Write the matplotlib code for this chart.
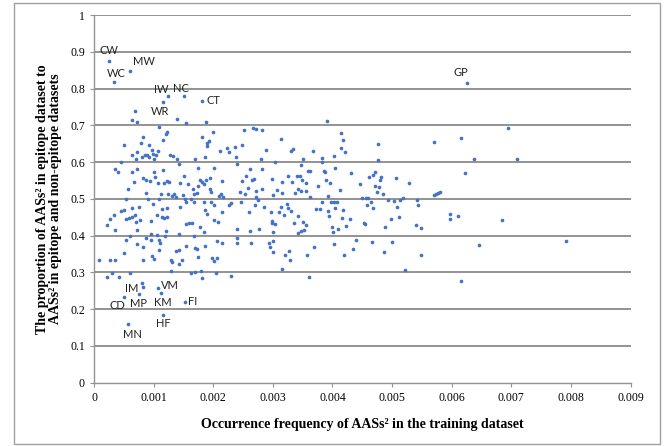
import numpy as np
import matplotlib
matplotlib.use("Agg")
import matplotlib.pyplot as plt
from matplotlib.patches import Rectangle

# occurrence frequency (x 1e-3) and proportion for the unlabelled AASs
freq_k = [
    0.08, 0.21, 0.21, 0.27, 0.27, 0.31, 0.33, 0.36, 0.36, 0.36, 0.40, 0.42, 0.45, 0.45,
    0.51, 0.51, 0.51, 0.54, 0.54, 0.54, 0.57, 0.58, 0.60, 0.60, 0.63, 0.63, 0.64, 0.64,
    0.64, 0.67, 0.68, 0.69, 0.70, 0.70, 0.72, 0.72, 0.72, 0.72, 0.72, 0.76, 0.77, 0.79,
    0.82, 0.81, 0.82, 0.82, 0.82, 0.86, 0.87, 0.87, 0.88, 0.89, 0.91, 0.92, 0.93, 0.94,
    0.95, 0.96, 0.96, 0.97, 0.97, 0.99, 0.99, 1.00, 1.01, 1.01, 1.03, 1.04, 1.06, 1.06,
    1.07, 1.07, 1.09, 1.09, 1.09, 1.09, 1.11, 1.12, 1.14, 1.14, 1.15, 1.15, 1.17, 1.18,
    1.19, 1.20, 1.21, 1.22, 1.22, 1.22, 1.23, 1.24, 1.26, 1.27, 1.29, 1.30, 1.31, 1.31,
    1.33, 1.34, 1.37, 1.38, 1.39, 1.40, 1.42, 1.42, 1.42, 1.43, 1.44, 1.45, 1.47, 1.49,
    1.51, 1.52, 1.54, 1.54, 1.57, 1.54, 1.55, 1.59, 1.62, 1.63, 1.65, 1.66, 1.67, 1.67,
    1.68, 1.69, 1.70, 1.70, 1.72, 1.73, 1.75, 1.75, 1.75, 1.77, 1.78, 1.79, 1.81, 1.82,
    1.82, 1.84, 1.85, 1.85, 1.87, 1.87, 1.87, 1.88, 1.88, 1.89, 1.90, 1.90, 1.93, 1.94,
    1.95, 1.97, 1.97, 1.98, 1.99, 2.01, 2.01, 2.02, 2.02, 2.05, 2.06, 2.07, 2.08, 2.10,
    2.12, 2.13, 2.14, 2.14, 2.15, 2.16, 2.23, 2.27, 2.27, 2.30, 2.30, 2.37, 2.39, 2.40,
    2.40, 2.40, 2.40, 2.45, 2.46, 2.48, 2.48, 2.51, 2.53, 2.55, 2.58, 2.60, 2.61, 2.62,
    2.64, 2.65, 2.66, 2.69, 2.70, 2.71, 2.72, 2.72, 2.75, 2.76, 2.80, 2.81, 2.81, 2.82,
    2.85, 2.88, 2.93, 2.95, 2.97, 2.98, 2.99, 2.99, 3.00, 3.00, 3.01, 3.01, 3.03, 3.04,
    3.07, 3.11, 3.13, 3.14, 3.15, 3.16, 3.16, 3.18, 3.20, 3.24, 3.25, 3.25, 3.27, 3.28,
    3.30, 3.31, 3.32, 3.33, 3.36, 3.38, 3.40, 3.42, 3.42, 3.43, 3.45, 3.47, 3.48, 3.48,
    3.49, 3.50, 3.51, 3.53, 3.55, 3.56, 3.56, 3.58, 3.59, 3.61, 3.62, 3.63, 3.67, 3.69,
    3.73, 3.76, 3.79, 3.82, 3.82, 3.83, 3.85, 3.88, 3.89, 3.91, 3.92, 3.93, 3.94, 3.96,
    3.98, 3.99, 4.01, 4.02, 4.03, 4.03, 4.05, 4.05, 4.07, 4.10, 4.13, 4.14, 4.15, 4.16,
    4.18, 4.18, 4.20, 4.21, 4.22, 4.30, 4.31, 4.34, 4.39, 4.46, 4.49, 4.53, 4.55, 4.56,
    4.58, 4.60, 4.62, 4.65, 4.67, 4.68, 4.68, 4.71, 4.72, 4.74, 4.76, 4.77, 4.78, 4.80,
    4.82, 4.84, 4.86, 4.89, 4.94, 4.98, 5.00, 5.04, 5.07, 5.09, 5.12, 5.14, 5.18, 5.21,
    5.29, 5.40, 5.42, 5.44, 5.49, 5.49, 5.70, 5.70, 5.73, 5.77, 5.80, 5.98, 5.98, 6.10,
    6.16, 6.16, 6.22, 6.37, 6.46, 6.85, 6.94, 7.10, 7.91, 0.82,
]
proportion = [
    0.334, 0.286, 0.429, 0.445, 0.334, 0.299, 0.456, 0.416, 0.334, 0.582, 0.573, 0.286, 0.601, 0.466,
    0.646, 0.352, 0.470, 0.500, 0.388, 0.444, 0.526, 0.449, 0.400, 0.299, 0.620, 0.714, 0.572, 0.475,
    0.451, 0.546, 0.456, 0.739, 0.607, 0.436, 0.709, 0.626, 0.582, 0.416, 0.376, 0.479, 0.441, 0.652,
    0.667, 0.615, 0.556, 0.369, 0.334, 0.620, 0.552, 0.516, 0.393, 0.620, 0.499, 0.646, 0.615, 0.548,
    0.388, 0.439, 0.404, 0.634, 0.344, 0.622, 0.487, 0.336, 0.574, 0.607, 0.559, 0.618, 0.457, 0.401,
    0.544, 0.629, 0.695, 0.500, 0.388, 0.361, 0.380, 0.513, 0.450, 0.472, 0.659, 0.579, 0.449, 0.543,
    0.399, 0.413, 0.676, 0.450, 0.474, 0.549, 0.682, 0.514, 0.547, 0.620, 0.334, 0.304, 0.508, 0.328,
    0.616, 0.513, 0.358, 0.505, 0.718, 0.609, 0.596, 0.404, 0.323, 0.362, 0.543, 0.479, 0.334, 0.511,
    0.561, 0.500, 0.707, 0.491, 0.539, 0.432, 0.371, 0.433, 0.499, 0.297, 0.435, 0.528, 0.491, 0.399,
    0.513, 0.608, 0.302, 0.366, 0.517, 0.363, 0.585, 0.343, 0.535, 0.550, 0.423, 0.304, 0.668, 0.285,
    0.546, 0.410, 0.491, 0.541, 0.470, 0.371, 0.613, 0.709, 0.550, 0.644, 0.459, 0.651, 0.656, 0.557,
    0.528, 0.491, 0.518, 0.339, 0.682, 0.441, 0.332, 0.583, 0.482, 0.299, 0.384, 0.339, 0.438, 0.508,
    0.629, 0.513, 0.464, 0.380, 0.549, 0.505, 0.637, 0.628, 0.483, 0.489, 0.290, 0.641, 0.614, 0.596,
    0.418, 0.393, 0.380, 0.518, 0.491, 0.646, 0.549, 0.687, 0.513, 0.561, 0.529, 0.464, 0.412, 0.582,
    0.380, 0.550, 0.693, 0.554, 0.483, 0.505, 0.691, 0.522, 0.497, 0.417, 0.607, 0.688, 0.580, 0.527,
    0.477, 0.632, 0.381, 0.368, 0.464, 0.439, 0.555, 0.434, 0.384, 0.354, 0.410, 0.510, 0.599, 0.432,
    0.524, 0.464, 0.477, 0.662, 0.309, 0.516, 0.547, 0.456, 0.347, 0.486, 0.561, 0.475, 0.359, 0.334,
    0.468, 0.631, 0.545, 0.635, 0.434, 0.515, 0.561, 0.408, 0.528, 0.452, 0.561, 0.522, 0.592, 0.412,
    0.550, 0.436, 0.608, 0.414, 0.429, 0.522, 0.543, 0.348, 0.576, 0.286, 0.505, 0.576, 0.629, 0.368,
    0.472, 0.535, 0.472, 0.610, 0.601, 0.491, 0.576, 0.574, 0.550, 0.713, 0.468, 0.508, 0.454, 0.543,
    0.491, 0.422, 0.410, 0.616, 0.377, 0.491, 0.474, 0.583, 0.491, 0.419, 0.525, 0.680, 0.637, 0.448,
    0.470, 0.660, 0.346, 0.628, 0.426, 0.444, 0.569, 0.364, 0.388, 0.539, 0.501, 0.435, 0.432, 0.501,
    0.484, 0.501, 0.558, 0.490, 0.383, 0.565, 0.474, 0.573, 0.535, 0.519, 0.650, 0.605, 0.532, 0.550,
    0.559, 0.513, 0.356, 0.422, 0.497, 0.444, 0.382, 0.494, 0.557, 0.477, 0.450, 0.497, 0.501, 0.307,
    0.543, 0.428, 0.497, 0.482, 0.420, 0.347, 0.655, 0.510, 0.514, 0.517, 0.519, 0.459, 0.446, 0.453,
    0.666, 0.276, 0.570, 0.609, 0.375, 0.443, 0.692, 0.607, 0.384, 0.260,
]

# labelled AASs
labels = ["CW", "MW", "WC", "IW", "NC", "WR", "CT", "GP",
          "IM", "VM", "CD", "MP", "KM", "FI", "HF", "MN"]
label_freq_k = [0.25, 0.60, 0.33, 1.24, 1.51, 1.16, 1.82, 6.26,
                0.80, 1.07, 0.51, 0.75, 1.13, 1.52, 1.16, 0.57]
label_prop = [0.875, 0.849, 0.819, 0.781, 0.781, 0.763, 0.767, 0.816,
              0.270, 0.258, 0.234, 0.240, 0.244, 0.219, 0.184, 0.159]

# text offsets in pixels (dx, dy, ha)
offsets = {
    "CW": (0, 10, "center"), "MW": (3, 9, "left"), "WC": (3, 8, "center"),
    "IW": (-7, 6, "center"), "NC": (-3, 7, "center"), "WR": (-3, -9, "center"),
    "CT": (4, 0, "left"), "GP": (-6, 10, "center"), "IM": (-3, -5, "right"),
    "VM": (3, 2, "left"), "CD": (-7, -9, "center"), "MP": (0, -9, "center"),
    "KM": (1, -10, "center"), "FI": (3, 1, "left"), "HF": (0, -9, "center"),
    "MN": (4, -10, "center"),
}

freq = np.array(freq_k) / 1000.0
label_freq = np.array(label_freq_k) / 1000.0

dot_color = "#4472C4"
grid_color = "#939393"

fig = plt.figure(figsize=(6.68, 4.46), dpi=100)
ax = fig.add_axes([94 / 668, 1 - 382.6 / 446, 536.5 / 668, 367.6 / 446])

ax.scatter(freq, proportion, s=7, color=dot_color, linewidths=0, zorder=3)
ax.scatter(label_freq, label_prop, s=7, color=dot_color, linewidths=0, zorder=3)

for name, lx, ly in zip(labels, label_freq, label_prop):
    dx, dy, ha = offsets[name]
    ax.annotate(name, (lx, ly), xytext=(dx, dy), textcoords="offset pixels",
                ha=ha, va="center", fontsize=8, family="Lato", color="#222222")

ax.set_xlim(0, 0.009)
ax.set_ylim(0, 1)
ax.set_xticks(np.arange(0, 0.0091, 0.001))
ax.set_xticklabels(["0", "0.001", "0.002", "0.003", "0.004", "0.005",
                    "0.006", "0.007", "0.008", "0.009"])
ax.set_yticks(np.arange(0, 1.01, 0.1))
ax.set_yticklabels(["0", "0.1", "0.2", "0.3", "0.4", "0.5",
                    "0.6", "0.7", "0.8", "0.9", "1"])

for yv in np.arange(0.1, 1.01, 0.1):
    ax.axhline(yv, color=grid_color, lw=1.4, zorder=1)

for side in ["top", "right"]:
    ax.spines[side].set_visible(False)
for side in ["left", "bottom"]:
    ax.spines[side].set_color(grid_color)
    ax.spines[side].set_linewidth(1.0)

ax.tick_params(axis="both", colors=grid_color, length=3, width=0.8,
               labelcolor="black", labelsize=8.5)
for lab in ax.get_xticklabels() + ax.get_yticklabels():
    lab.set_family("Liberation Serif")

ax.set_xlabel("Occurrence frequency of AASs² in the training dataset",
              family="Liberation Serif", fontweight="bold", fontsize=10, labelpad=10)
ax.set_ylabel("The proportion of AASs² in epitope dataset to\n"
              "AASs² in epitope and non-epitope datasets",
              family="Liberation Serif", fontweight="bold", fontsize=10,
              labelpad=6, linespacing=1.0)

fig.patches.append(Rectangle((14 / 668, 2 / 446), 646 / 668, 441 / 446,
                             transform=fig.transFigure, fill=False,
                             edgecolor="#a0a0a0", lw=1.0))

fig.savefig("out.png", dpi=100)
